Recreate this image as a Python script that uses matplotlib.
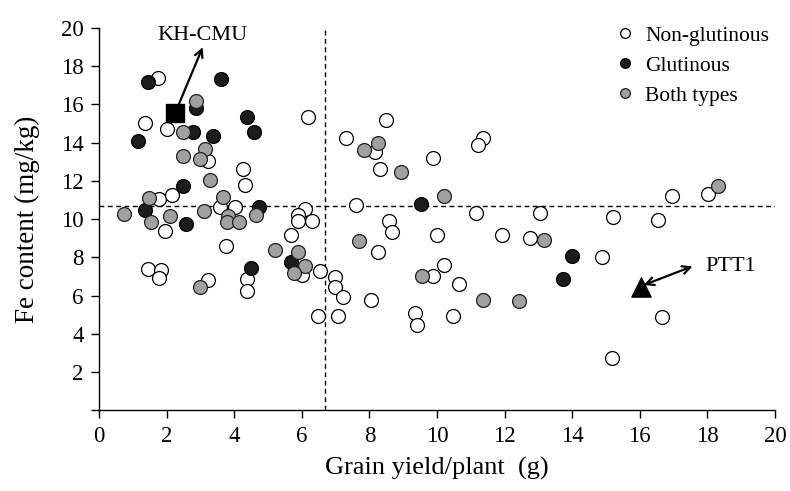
import matplotlib
matplotlib.use("Agg")
import matplotlib.pyplot as plt
from matplotlib.lines import Line2D

plt.rcParams['font.family'] = ['Liberation Serif', 'DejaVu Serif']

# Non-glutinous (open circles)
non_x = [1.74, 1.36, 2.01, 3.24, 4.27, 4.32, 1.79, 2.15, 1.95, 3.57, 4.02, 3.75,
         1.46, 1.84, 1.77, 3.24, 4.37, 4.39, 6.18, 8.48, 7.32, 8.16, 9.89, 8.30,
         7.59, 6.10, 5.90, 6.30, 5.90, 8.58, 8.68, 5.67, 9.99, 8.25, 6.02, 6.55,
         10.22, 9.87, 6.99, 6.99, 7.22, 8.06, 9.35, 9.42, 6.48, 7.08, 10.47,
         11.36, 11.20, 11.16, 13.05, 15.20, 11.92, 12.75, 14.88, 10.66, 16.96,
         18.03, 16.54, 16.67, 15.18]
non_y = [17.40, 15.05, 14.70, 13.05, 12.61, 11.80, 11.05, 11.26, 9.39, 10.62, 10.62, 8.58,
         7.40, 7.36, 6.91, 6.82, 6.87, 6.26, 15.35, 15.17, 14.27, 13.52, 13.19, 12.61,
         10.74, 10.53, 10.21, 9.92, 9.92, 9.92, 9.31, 9.19, 9.19, 8.27, 7.10, 7.27,
         7.62, 7.01, 6.96, 6.44, 5.95, 5.79, 5.08, 4.47, 4.96, 4.96, 4.96,
         14.25, 13.87, 10.30, 10.30, 10.13, 9.17, 9.01, 8.00, 6.61, 11.22,
         11.31, 9.97, 4.87, 2.73]

# Glutinous (black circles)
glu_x = [1.44, 3.62, 2.86, 4.37, 4.58, 2.78, 3.37, 1.16, 2.48, 1.36, 2.58, 4.72,
         4.51, 5.67, 9.52, 13.99, 13.73]
glu_y = [17.17, 17.31, 15.83, 15.35, 14.56, 14.56, 14.35, 14.09, 11.74, 10.49, 9.74, 10.65,
         7.45, 7.78, 10.79, 8.09, 6.85]

# Both types (grey circles)
both_x = [2.86, 2.48, 3.13, 2.48, 3.00, 3.27, 1.47, 3.68, 0.74, 1.54, 2.10, 3.10,
          3.82, 3.80, 4.15, 4.65, 3.00, 5.20, 5.88, 6.10, 5.77, 8.25, 7.84, 8.93,
          10.22, 7.69, 9.57, 13.16, 11.36, 12.43, 18.30]
both_y = [16.18, 14.56, 13.69, 13.31, 13.17, 12.06, 11.09, 11.17, 10.27, 9.87, 10.18, 10.43,
          10.18, 9.84, 9.83, 10.22, 6.44, 8.40, 8.27, 7.54, 7.19, 13.97, 13.62, 12.47,
          11.22, 8.84, 7.01, 8.93, 5.78, 5.71, 11.74]

# Highlighted genotypes
kh_pt = (2.26, 15.57)
ptt_pt = (16.05, 6.44)

# Reference lines
x_mean = 6.7
y_mean = 10.7

fig = plt.figure(figsize=(7.9, 4.91), dpi=100)
ax = fig.add_axes([0.1253, 0.164, 0.981 - 0.1253, 0.943 - 0.164])

ax.axvline(x_mean, color='k', lw=1.0, ls=(0, (3.5, 2.5)), zorder=1)
ax.axhline(y_mean, color='k', lw=1.0, ls=(0, (3.5, 2.5)), zorder=1)

ms = 100
ax.scatter(non_x, non_y, s=ms, facecolors='white', edgecolors='black', linewidths=0.9, zorder=3)
ax.scatter(glu_x, glu_y, s=ms, facecolors='#1c1c1c', edgecolors='black', linewidths=0.9, zorder=4)
ax.scatter(both_x, both_y, s=ms, facecolors='#a0a0a0', edgecolors='#202020', linewidths=0.9, zorder=5)

ax.scatter([kh_pt[0]], [kh_pt[1]], marker='s', s=150, color='black', zorder=6)
ax.scatter([ptt_pt[0]], [ptt_pt[1]], marker='^', s=190, color='black', zorder=6)

ax.annotate('', xy=(3.07, 19.0), xytext=(2.3, 15.75),
            arrowprops=dict(arrowstyle='->', lw=1.6, color='black', mutation_scale=14,
                            shrinkA=0, shrinkB=0), zorder=7)
ax.text(3.07, 19.62, 'KH-CMU', ha='center', va='center', fontsize=16)

ax.annotate('', xy=(17.56, 7.54), xytext=(16.12, 6.56),
            arrowprops=dict(arrowstyle='<->', lw=1.6, color='black', mutation_scale=14,
                            shrinkA=0, shrinkB=0), zorder=7)
ax.text(17.94, 7.55, 'PTT1', ha='left', va='center', fontsize=16)

ax.set_xlim(0, 20)
ax.set_ylim(0, 20)
ax.set_xticks(range(0, 21, 2))
ax.set_yticks(range(0, 21, 2))
ax.set_yticklabels([''] + [str(v) for v in range(2, 21, 2)])
ax.tick_params(axis='both', direction='out', length=6, width=1.0, labelsize=16.5, pad=5, colors='black')
for side in ['top', 'right']:
    ax.spines[side].set_visible(False)
for side in ['left', 'bottom']:
    ax.spines[side].set_linewidth(1.0)

ax.set_xlabel('Grain yield/plant  (g)', fontsize=19, labelpad=7)
ax.set_ylabel('Fe content (mg/kg)', fontsize=19.5, labelpad=15)

handles = [
    Line2D([], [], marker='o', ls='none', markersize=7, markerfacecolor='white', markeredgecolor='black', markeredgewidth=0.9),
    Line2D([], [], marker='o', ls='none', markersize=7, markerfacecolor='#1c1c1c', markeredgecolor='black', markeredgewidth=0.9),
    Line2D([], [], marker='o', ls='none', markersize=7, markerfacecolor='#a0a0a0', markeredgecolor='#202020', markeredgewidth=0.9),
]
labels = ['Non-glutinous', 'Glutinous', 'Both types']
fig.legend(handles, labels, loc='upper left', bbox_to_anchor=(618.5 / 790, 1 - 25.5 / 491),
           frameon=False, fontsize=15.5, handlelength=0.6, handletextpad=0.63,
           labelspacing=0.47, borderpad=0, borderaxespad=0)

fig.savefig('out.png', dpi=100)
